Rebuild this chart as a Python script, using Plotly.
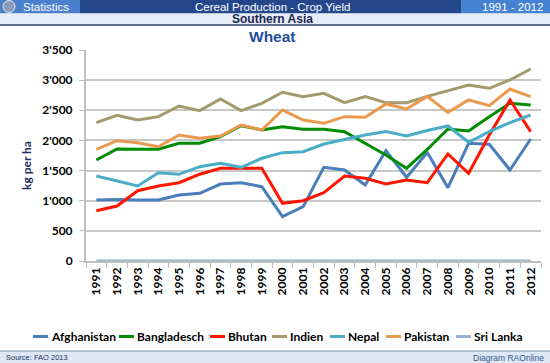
import plotly.graph_objects as go

# ---------------- data ----------------
years = ["1991", "1992", "1993", "1994", "1995", "1996", "1997", "1998", "1999", "2000", "2001",
         "2002", "2003", "2004", "2005", "2006", "2007", "2008", "2009", "2010", "2011", "2012"]

afghanistan = [1010, 1020, 1012, 1012, 1095, 1123, 1277, 1299, 1233, 735, 901,
               1554, 1510, 1261, 1830, 1389, 1800, 1217, 1953, 1936, 1510, 2024]
bangladesch = [1676, 1858, 1853, 1853, 1953, 1953, 2062, 2245, 2173, 2228, 2185,
               2185, 2145, 1952, 1758, 1538, 1850, 2190, 2157, 2394, 2616, 2588]
bhutan = [834, 912, 1166, 1244, 1299, 1440, 1538, 1538, 1538, 957, 1000,
          1133, 1410, 1372, 1277, 1344, 1299, 1775, 1455, 2090, 2671, 2146]
indien = [2295, 2416, 2339, 2394, 2571, 2494, 2688, 2494, 2616, 2799, 2726,
          2782, 2627, 2726, 2627, 2627, 2730, 2820, 2920, 2865, 3003, 3185]
nepal = [1410, 1332, 1244, 1465, 1438, 1564, 1620, 1554, 1704, 1797, 1814,
         1941, 2019, 2090, 2146, 2074, 2165, 2240, 1969, 2146, 2295, 2422]
pakistan = [1853, 1996, 1963, 1896, 2090, 2035, 2074, 2256, 2173, 2505, 2339,
            2284, 2394, 2384, 2605, 2522, 2730, 2466, 2671, 2577, 2853, 2726]
srilanka = [0, 0, 0, 0, 0, 0, 0, 0, 0, 0, 0,
            0, 0, 0, 0, 0, 0, 0, 0, 0, 0, 0]

series_names = ["Afghanistan", "Bangladesch", "Bhutan", "Indien", "Nepal", "Pakistan", "Sri Lanka"]
series_values = [afghanistan, bangladesch, bhutan, indien, nepal, pakistan, srilanka]
series_colors = ["#4A7EBB", "#008C00", "#FF1500", "#A39A6E", "#4BACC6", "#EA9A4E", "#95B3D7"]

y_ticks = [0, 500, 1000, 1500, 2000, 2500, 3000, 3500]

# ---------------- geometry helpers (pixels -> paper) ----------------
W_FIG, H_FIG = 550, 363
L, R, T, B = 86, 541, 50, 261


def px(x):
    return (x - L) / (R - L)


def py(y):
    return (B - y) / (B - T)


fig = go.Figure()
for name, vals, col in zip(series_names, series_values, series_colors):
    fig.add_trace(go.Scatter(x=years, y=vals, name=name, mode="lines",
                             line=dict(color=col, width=3), cliponaxis=False,
                             showlegend=False))

tick_font = dict(family="Lato", size=12, color="#000000", weight="bold")

fig.update_layout(
    width=W_FIG, height=H_FIG,
    margin=dict(l=L, r=W_FIG - R, t=T, b=H_FIG - B),
    paper_bgcolor="white", plot_bgcolor="white",
    separators=".'",
    showlegend=False,
    xaxis=dict(type="category", range=[-0.5, len(years) - 0.5], tickangle=-90,
               tickson="boundaries", ticks="outside", ticklen=5, tickcolor="#BFBFBF",
               showline=True, linecolor="#BFBFBF", linewidth=1.5, showgrid=False,
               tickfont=tick_font),
    yaxis=dict(range=[0, 3500], tickvals=y_ticks, tickformat=",",
               showgrid=True, gridcolor="#C8C8C8", gridwidth=1.5,
               showline=True, linecolor="#BFBFBF", linewidth=2,
               ticks="outside", ticklen=5, tickcolor="#BFBFBF",
               zeroline=False, tickfont=tick_font, ticklabelstandoff=4),
)

shapes = []
annots = []

# header bar
shapes.append(dict(type="rect", xref="paper", yref="paper", x0=px(0), x1=px(80), y0=py(13.5), y1=py(0),
                   fillcolor="#4A7FCB", line=dict(width=0), layer="above"))
shapes.append(dict(type="rect", xref="paper", yref="paper", x0=px(80), x1=px(461), y0=py(13.5), y1=py(0),
                   fillcolor="#24478C", line=dict(width=0), layer="above"))
shapes.append(dict(type="rect", xref="paper", yref="paper", x0=px(461), x1=px(550), y0=py(13.5), y1=py(0),
                   fillcolor="#4682D2", line=dict(width=0), layer="above"))
shapes.append(dict(type="circle", xref="paper", yref="paper", x0=px(3), x1=px(15), y0=py(12.5), y1=py(0.5),
                   fillcolor="#8A9BB8", line=dict(width=1, color="#E0E6F0"), layer="above"))
# Southern Asia band
shapes.append(dict(type="rect", xref="paper", yref="paper", x0=px(0), x1=px(550), y0=py(25), y1=py(13.5),
                   fillcolor="#E6EDF8", line=dict(width=0), layer="above"))
shapes.append(dict(type="line", xref="paper", yref="paper", x0=px(0), x1=px(550), y0=py(25), y1=py(25),
                   line=dict(width=1.5, color="#2B3F6B"), layer="above"))
# footer band
shapes.append(dict(type="rect", xref="paper", yref="paper", x0=px(0), x1=px(550), y0=py(363), y1=py(351),
                   fillcolor="#DDE7F5", line=dict(width=0), layer="above"))
shapes.append(dict(type="line", xref="paper", yref="paper", x0=px(0), x1=px(550), y0=py(351), y1=py(351),
                   line=dict(width=1.2, color="#7F8FAF"), layer="above"))

hdr_font = dict(family="Liberation Sans", size=11.5, color="white")
annots.append(dict(text="Statistics", x=px(45.5), y=py(6.8), xref="paper", yref="paper",
                   showarrow=False, font=hdr_font, xanchor="center", yanchor="middle"))
annots.append(dict(text="Cereal Production - Crop Yield", x=px(272), y=py(6.8), xref="paper", yref="paper",
                   showarrow=False, font=hdr_font, xanchor="center", yanchor="middle"))
annots.append(dict(text="1991 - 2012", x=px(512), y=py(6.8), xref="paper", yref="paper",
                   showarrow=False, font=hdr_font, xanchor="center", yanchor="middle"))
annots.append(dict(text="<b>Southern Asia</b>", x=px(272), y=py(19.3), xref="paper", yref="paper",
                   showarrow=False, font=dict(family="Liberation Sans", size=12, color="#1A2750"),
                   xanchor="center", yanchor="middle"))
annots.append(dict(text="<b>Wheat</b>", x=px(272), y=py(37), xref="paper", yref="paper",
                   showarrow=False, font=dict(family="Liberation Sans", size=15.5, color="#1F4E9A"),
                   xanchor="center", yanchor="middle"))
annots.append(dict(text="<b>kg per ha</b>", x=px(26), y=py(166), xref="paper", yref="paper",
                   showarrow=False, textangle=-90,
                   font=dict(family="Lato", size=12, color="#1F2F5F"),
                   xanchor="center", yanchor="middle"))
annots.append(dict(text="Source: FAO 2013", x=px(4), y=py(357.5), xref="paper", yref="paper",
                   showarrow=False, font=dict(family="Liberation Sans", size=7.5, color="#1F2F5F"),
                   xanchor="left", yanchor="middle"))
annots.append(dict(text="Diagram RAOnline", x=px(546), y=py(357.5), xref="paper", yref="paper",
                   showarrow=False, font=dict(family="Liberation Sans", size=8.5, color="#3A5A8F"),
                   xanchor="right", yanchor="middle"))

# manual legend
legend_x = [33, 119, 210, 272, 330, 386, 456]
legend_y = 336.5
for name, col, lx in zip(series_names, series_colors, legend_x):
    shapes.append(dict(type="line", xref="paper", yref="paper", x0=px(lx), x1=px(lx + 15),
                       y0=py(legend_y), y1=py(legend_y), line=dict(width=3, color=col)))
    annots.append(dict(text="<b>" + name + "</b>", x=px(lx + 16), y=py(legend_y), xref="paper", yref="paper",
                       showarrow=False, font=dict(family="Lato", size=12, color="#000000"),
                       xanchor="left", yanchor="middle"))

fig.update_layout(shapes=shapes, annotations=annots)
fig.write_html("out.html",
               config={"displayModeBar": False},
               post_script="document.body.style.margin='0';document.body.style.overflow='hidden';")
